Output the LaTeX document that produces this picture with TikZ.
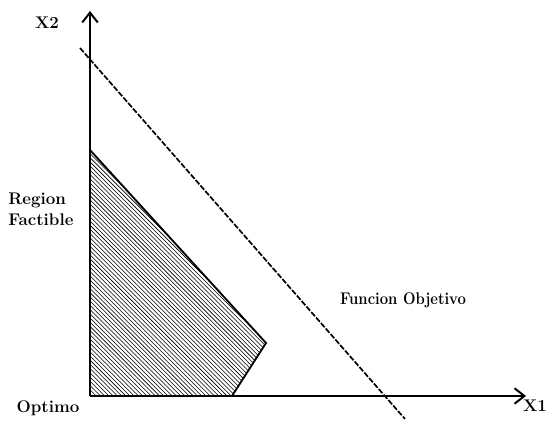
\documentclass[tikz,border=0pt]{standalone}
\usepackage{tikz}
\usetikzlibrary{arrows.meta,positioning,patterns}

\tikzset{
  axisline/.style={line width=1.4pt,-{Straight Barb[length=7pt,width=11pt,line width=1.4pt]}},
  lbl/.style={font=\fontsize{12}{14}\selectfont\bfseries,inner sep=0pt}
}

\begin{document}
\begin{tikzpicture}[x=0.025cm,y=0.025cm]
        \useasboundingbox (0,0) rectangle (547,422);
        % Axes
        \coordinate (O) at (90,26);
        \coordinate (ytip) at (90,411);
        \coordinate (xtip) at (526,26);
        % Feasible region
        \fill[pattern=north west lines] (O) -- (90,272) -- (266,79) -- (232,26) -- cycle;
        \draw[line width=1.3pt] (90,272) -- (266,79) -- (232,26);
        \draw[axisline] (O) -- (ytip);
        \draw[axisline] (O) -- (xtip);
        % Objective function
        \coordinate (fa) at (80,374);
        \coordinate (fb) at (405,3);
        \draw[line width=1.2pt,dash pattern=on 4pt off 1.2pt] (fa) -- (fb);
        % Labels
        \node[lbl] (x2) at (47,399) {X2};
        \node[lbl] (x1) at (535,16) {X1};
        \node[lbl,anchor=west] (reg) at (8,222) {Region};
        \node[lbl,below=4pt of reg.south west,anchor=north west] (fac) {Factible};
        \node[lbl] (opt) at (48,14) {Optimo};
        \node[lbl,xscale=0.88,transform shape] (fobj) at (403,122) {Funcion Objetivo};
\end{tikzpicture}
\end{document}
